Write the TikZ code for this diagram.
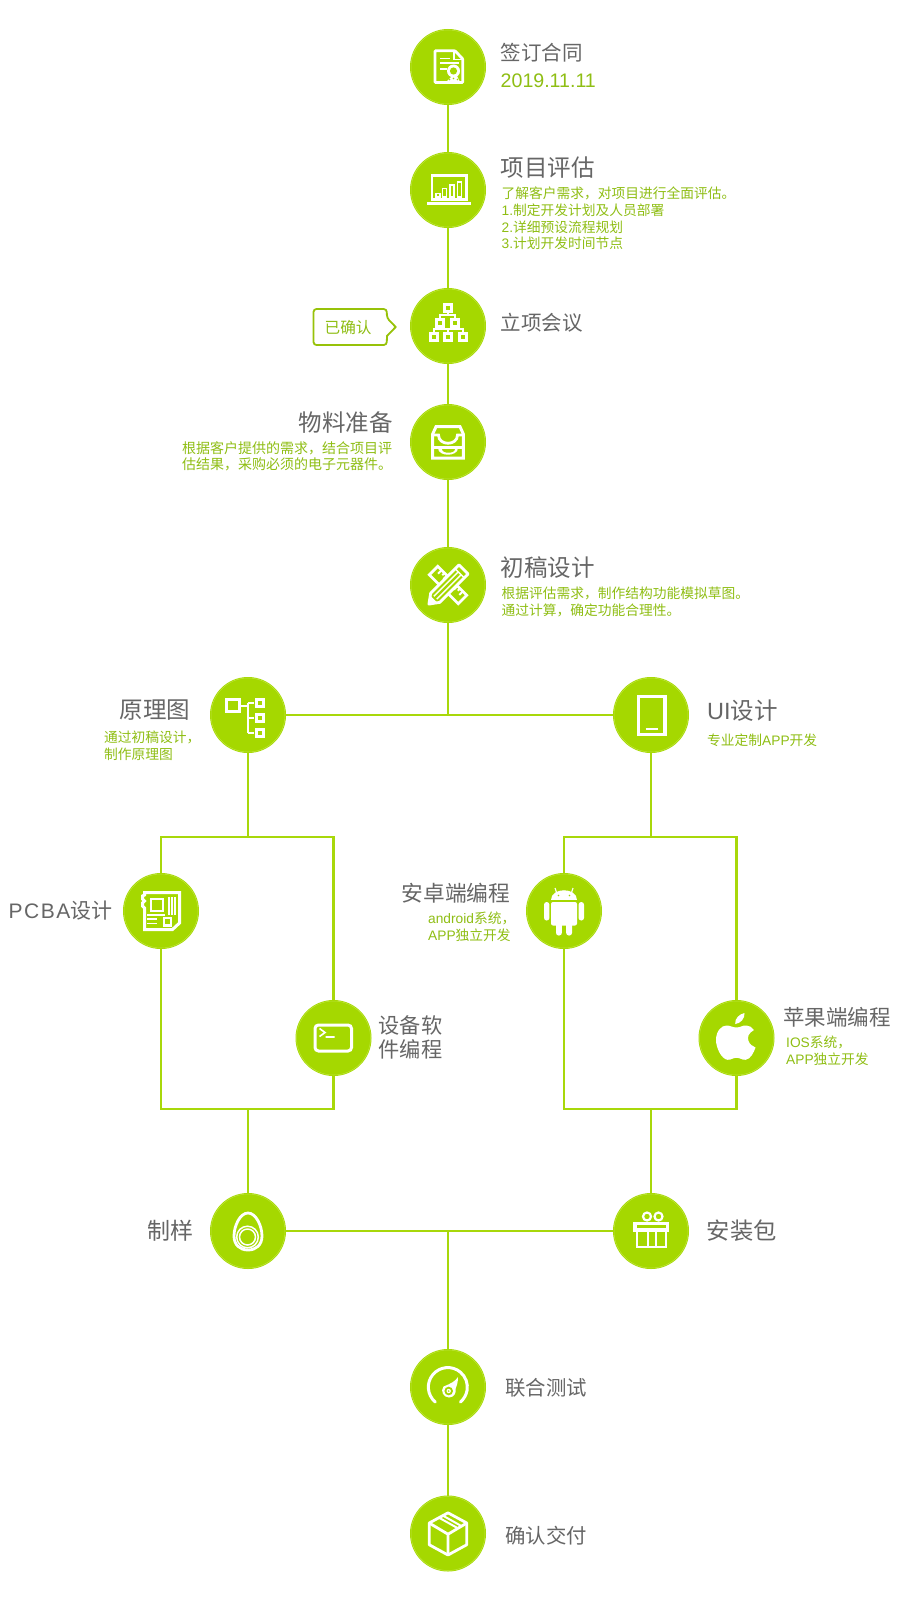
\documentclass[tikz,border=0pt]{standalone}
\usepackage{fontspec}
\setmainfont{Noto Sans CJK SC}
\newfontfamily\la{Liberation Sans}
\newfontfamily\lasp[LetterSpace=7]{Liberation Sans}
\definecolor{gcirc}{HTML}{A5D800}
\definecolor{gring}{HTML}{BEE63C}
\definecolor{gline}{HTML}{A8D80A}
\definecolor{gtext}{HTML}{8FBE14}
\definecolor{gtitle}{HTML}{666666}
\newcommand{\fz}[1]{\fontsize{#1}{#1}\selectfont}
\tikzset{
  stage/.style={circle,fill=gcirc,minimum size=76pt,inner sep=0,outer sep=0,
    path picture={\draw[gring,line width=.5] (path picture bounding box.center) circle (37pt);}},
  link/.style={gline,line width=2.3pt},
  ttl/.style={anchor=west,inner sep=0,text=gtitle,align=left},
  sub/.style={anchor=west,inner sep=0,text=gtext,align=left,font=\fz{13.75},execute at begin node={\baselineskip=16.8pt}},
  ic/.style={white,line width=2.8,line join=miter},
  thin/.style={white,line width=1.9},
}
\begin{document}
\begin{tikzpicture}[x=1pt,y=-1pt]
\useasboundingbox (0,0) rectangle (900,1600);
\fill[white] (0,0) rectangle (900,1600);
% stages
\node[stage] (sign) at (448,67) {};
\node[stage] (eval) at (448,190) {};
\node[stage] (meet) at (448,326) {};
\node[stage] (mat) at (448,442) {};
\node[stage] (draft) at (448,585) {};
\node[stage] (sch) at (248,715) {};
\node[stage] (ui) at (651,715) {};
\node[stage] (pcba) at (161,911) {};
\node[stage] (soft) at (333.5,1038) {};
\node[stage] (andr) at (564,911) {};
\node[stage] (appl) at (736.5,1038) {};
\node[stage] (samp) at (248,1231) {};
\node[stage] (pack) at (651,1231) {};
\node[stage] (test) at (448,1387) {};
\node[stage] (deliv) at (448,1533.5) {};
% junctions
\coordinate (jtop) at (448,715);
\coordinate (lt) at (161,837); \coordinate (rt) at (333.5,837);
\coordinate (lb) at (161,1108.7); \coordinate (rb) at (333.5,1108.7);
\coordinate (lst) at (248,837); \coordinate (lsb) at (248,1108.7);
\coordinate (lt2) at (564,837); \coordinate (rt2) at (736.5,837);
\coordinate (lb2) at (564,1108.7); \coordinate (rb2) at (736.5,1108.7);
\coordinate (rst) at (651,837); \coordinate (rsb) at (651,1108.7);
\coordinate (jbot) at (448,1231);
% connectors
\draw[link] (sign) -- (eval);
\draw[link] (eval) -- (meet);
\draw[link] (meet) -- (mat);
\draw[link] (mat) -- (draft);
\draw[link] (draft) -- (jtop);
\draw[link] (sch) -- (ui);
\draw[link] (sch) -- (lst);
\draw[link] (ui) -- (rst);
\draw[link,line join=miter] (pcba) -- (lt) -- (rt) -- (soft);
\draw[link,line join=miter] (pcba) -- (lb) -- (rb) -- (soft);
\draw[link,line join=miter] (andr) -- (lt2) -- (rt2) -- (appl);
\draw[link,line join=miter] (andr) -- (lb2) -- (rb2) -- (appl);
\draw[link] (lsb) -- (samp);
\draw[link] (rsb) -- (pack);
\draw[link] (samp) -- (pack);
\draw[link] (jbot) -- (test);
\draw[link] (test) -- (deliv);
% texts
\node[ttl,font=\fz{20.5}] (t1) at (500.5,53) {签订合同};
\node[anchor=west,inner sep=0,text=gtext,font=\la\fz{19.6}] (t1b) at (500.5,81) {2019.11.11};
\node[ttl,font=\fz{23.5}] (t2) at (500.5,167.5) {项目评估};
\node[sub,anchor=north west] (t2b) at (501.5,186.5) {了解客户需求，对项目进行全面评估。\\{\la 1.}制定开发计划及人员部署\\{\la 2.}详细预设流程规划\\{\la 3.}计划开发时间节点};
\node[ttl,font=\fz{20.5}] (t3) at (500.5,323) {立项会议};
\draw[gline!90!black,line width=1.8,fill=white,rounded corners=3pt] (313.5,309) -- (386.7,309) -- (387,318) [sharp corners] -- (395.7,327) -- (387,336) [rounded corners=3pt] -- (386.7,345) -- (313.5,345) -- cycle;
\node[anchor=west,inner sep=0,text=gtext,font=\fz{15.6}] (t3b) at (324.5,327.5) {已确认};
\node[ttl,font=\fz{23.5}] (t4) at (298.5,422.5) {物料准备};
\node[sub,anchor=north west,font=\fz{14}] (t4b) at (182,441) {根据客户提供的需求，结合项目评\\估结果，采购必须的电子元器件。};
\node[ttl,font=\fz{23.5}] (t5) at (500.5,567.5) {初稿设计};
\node[sub,anchor=north west] (t5b) at (501.5,586.5) {根据评估需求，制作结构功能模拟草图。\\通过计算，确定功能合理性。};
\node[ttl,font=\fz{23.5}] (t6) at (119.5,710) {原理图};
\node[sub,anchor=north west] (t6b) at (104,730.5) {通过初稿设计，\\制作原理图};
\node[ttl,font=\fz{23.5}] (t7) at (707,711) {{\la UI}设计};
\node[sub] (t7b) at (707,740) {专业定制{\la APP}开发};
\node[ttl,font=\fz{21}] (t8) at (8.5,911) {{\lasp PCBA}设计};
\node[ttl,font=\fz{21.2},execute at begin node={\baselineskip=24pt}] (t9) at (378.5,1037.5) {设备软\\件编程};
\node[ttl,font=\fz{21.7}] (t10) at (401.5,892.7) {安卓端编程};
\node[sub,anchor=north west] (t10b) at (428,912) {{\la android}系统，\\{\la APP}独立开发};
\node[ttl,font=\fz{21.5}] (t11) at (783,1017.7) {苹果端编程};
\node[sub,anchor=north west] (t11b) at (786,1035.5) {{\la IOS}系统，\\{\la APP}独立开发};
\node[ttl,font=\fz{23}] (t12) at (147,1231) {制样};
\node[ttl,font=\fz{23.3}] (t13) at (706.5,1231) {安装包};
\node[ttl,font=\fz{20.4}] (t14) at (505,1387.7) {联合测试};
\node[ttl,font=\fz{20.4}] (t15) at (505,1536) {确认交付};
% ---- icons
% contract
\begin{scope}[shift={(sign)}]
\draw[ic,rounded corners=.8pt] (-13,-16.2) -- (7,-16.2) -- (14.8,-8) -- (14.8,15.5) -- (-13,15.5) -- cycle;
\draw[thin,line width=1.5] (6,-16) -- (6,-7.5) -- (15,-7.5);
\draw[thin] (-8,-8.5) -- (2,-8.5) (-8,-4) -- (11,-4) (-8,2) -- (-1,2);
\fill[white] (4,9) -- (-2,15) -- (12,15) -- (9,9) -- cycle;
\fill[white] (5.5,4) circle (6.5);
\fill[gcirc] (5.5,4) circle (3.6);
\fill[gcirc] (1.5,12.5) circle (.8) (5.5,11.5) circle (.8) (9.5,12.5) circle (.8);
\end{scope}
% laptop
\begin{scope}[shift={(eval)}]
\draw[ic] (-16,-14.5) rectangle (18.5,9.5);
\fill[white] (-20.7,12) rectangle (23,15);
\draw[thin] (-12,3.5) rectangle (-8,7);
\draw[thin] (-5.5,-1.5) rectangle (-1.5,7);
\draw[thin] (2,-5) rectangle (6,7);
\draw[thin] (9.5,-8) rectangle (13.5,7);
\end{scope}
% org chart
\begin{scope}[shift={(meet)}]
\draw[white,line width=2] (-7.7,-3.3) -- (-7.7,-11) -- (7.3,-11) -- (7.3,-3.3);
\draw[white,line width=2] (0,-11) -- (0,-17);
\draw[white,line width=2] (-14.3,10.7) -- (-14.3,3) -- (15,3) -- (15,10.7) (0,3) -- (0,10.7);
\foreach \a/\b in {0/-17.7,-7.7/-3.3,7.3/-3.3,-14.3/10.7,0/10.7,15/10.7}{\fill[white] ({\a-5},{\b-5}) rectangle ({\a+5},{\b+5}); \fill[gcirc] ({\a-1.9},{\b-1.9}) rectangle ({\a+1.9},{\b+1.9});}
\end{scope}
% tray
\begin{scope}[shift={(mat)}]
\draw[ic,line width=3] (-15.3,16) -- (-15.3,-8) -- (-12,-15.3) -- (12,-15.3) -- (15.3,-8) -- (15.3,16) -- cycle;
\draw[ic,line width=2.8] (-15.8,-7) -- (-9.5,-7) .. controls (-9.5,4) and (9.5,4) .. (9.5,-7) -- (15.8,-7);
\draw[ic,line width=2.8] (-15.8,5.5) -- (15.8,5.5);
\fill[white] (-10,5.5) .. controls (-10,15) and (10,15) .. (10,5.5) -- cycle;
\fill[gcirc] (-6.5,7.3) .. controls (-6.5,11.5) and (6.5,11.5) .. (6.5,7.3) -- cycle;
\end{scope}
% ruler + pencil
\begin{scope}[shift={(draft)}]
\begin{scope}[rotate=-45]
\draw[ic,fill=gcirc] (-20.5,-6) rectangle (20.5,6);
\draw[thin] (-15,-6) -- (-15,-1) (-11,-6) -- (-11,-3) (-7.5,-6) -- (-7.5,-1) (7.5,-6) -- (7.5,-1) (11,-6) -- (11,-3) (15,-6) -- (15,-1);
\end{scope}
\begin{scope}[rotate=45]
\draw[ic,fill=gcirc,line join=round] (-27,0) -- (-18,-6.5) -- (22,-6.5) -- (22,6.5) -- (-18,6.5) -- cycle;
\draw[thin,line width=1.5] (-18,-2) -- (17,-2) (-18,2) -- (17,2) (16.5,-6.5) -- (16.5,6.5);
\fill[white] (-27,0) -- (-20,-5) -- (-20,5) -- cycle;
\end{scope}
\end{scope}
% hierarchy
\begin{scope}[shift={(sch)}]
\draw[white,line width=2] (-7,-9) -- (0,-9) (0,-11.7) -- (0,18.3) (0,-11.7) -- (6,-11.7) (0,3.3) -- (6,3.3) (0,18.3) -- (6,18.3);
\draw[ic,line width=3.2] (-21.7,-15.2) rectangle (-8.9,-3.2);
\foreach \b in {-11.7,3.3,18.3}{\fill[white] (6.5,{\b-5}) rectangle (16.5,{\b+5}); \fill[gcirc] (9.8,{\b-2}) rectangle (13.5,{\b+2});}
\end{scope}
% tablet
\begin{scope}[shift={(ui)}]
\draw[ic,line width=3.2] (-12.6,-18.4) rectangle (14,19.4);
\draw[ic,line width=2] (-5.5,14.3) -- (7,14.3);
\end{scope}
% chip
\begin{scope}[shift={(pcba)}]
\draw[ic,line width=3] (-16.5,-18.5) -- (18.5,-18.5) -- (18.5,12) -- (11.5,18.5) -- (-16.5,18.5) -- (-16.5,-3) -- (-18.5,-5) -- (-18.5,-8) -- (-16.5,-10) -- (-18.5,-12) -- (-18.5,-15) -- (-16.5,-16) -- cycle;
\draw[ic,line width=2.8] (-10,-12) rectangle (2,0);
\draw[white,line width=1.6] (8,-14) -- (8,4) (11,-14) -- (11,4) (14,-14) -- (14,4);
\draw[white,line width=1.6] (-14,8) -- (-4,8) (-14,12.5) -- (-4,12.5) (-14,4) -- (4,4);
\draw[ic,line width=2.4] (3,7) rectangle (10,14.5);
\end{scope}
% terminal
\begin{scope}[shift={(soft)}]
\draw[ic,line width=3,rounded corners=3.5pt] (-18.5,-13) rectangle (18,13);
\draw[white,line width=1.6] (-14,-9.5) -- (-8.5,-5.5) -- (-14,-1.5) (-8,-1) -- (1,-1);
\end{scope}
% android
\begin{scope}[shift={(andr)}]
\fill[white] (-13,-10.7) .. controls (-13,-24.5) and (13,-24.5) .. (13,-10.7) -- cycle;
\draw[white,line width=1.1] (-7,-17) -- (-9,-23) (7,-17) -- (9,-23);
\fill[gcirc] (-5.5,-15.5) circle (.9) (5.5,-15.5) circle (.9);
\fill[white,rounded corners=2pt] (-13,-9) rectangle (13,14.5);
\fill[white,rounded corners=2.6pt] (-20,-9) rectangle (-14.6,9.5);
\fill[white,rounded corners=2.6pt] (14.6,-9) rectangle (20,9.5);
\fill[white,rounded corners=2.6pt] (-8,8) rectangle (-2.2,24.5);
\fill[white,rounded corners=2.6pt] (2.2,8) rectangle (8,24.5);
\end{scope}
% apple
\begin{scope}[shift={(appl)}]
\fill[white] (0,-10.5) .. controls (4,-10.5) and (6,-13) .. (10,-12.5) .. controls (13,-12.5) and (16,-10.5) .. (17.5,-8) .. controls (12,-5) and (10.5,-1) .. (12,3) .. controls (13,6) and (16,8.5) .. (19,9.5) .. controls (17.5,14) and (14,21.5) .. (9,21.8) .. controls (5,22) and (4,19.8) .. (0,19.8) .. controls (-4,19.8) and (-5,22) .. (-9,21.8) .. controls (-15,21) and (-20.5,10) .. (-20.5,2) .. controls (-20.5,-7) and (-15,-12.5) .. (-10,-12.5) .. controls (-6,-12.5) and (-4,-10.5) .. (0,-10.5) -- cycle;
\fill[white] (-1.3,-14) .. controls (-2,-19.5) and (3,-24) .. (8,-25) .. controls (8.5,-19.5) and (4,-14.5) .. (-1.3,-14) -- cycle;
\end{scope}
% egg
\begin{scope}[shift={(samp)}]
\draw[ic,line width=2.8] (0,-18) .. controls (8,-18) and (14,-5) .. (14,5) .. controls (14,14) and (8,19) .. (0,19) .. controls (-8,19) and (-14,14) .. (-14,5) .. controls (-14,-5) and (-8,-18) .. (0,-18) -- cycle;
\draw[white,line width=1.5] (-.5,6) circle (10.8);
\draw[white,line width=1.5] (-.5,6) circle (8);
\end{scope}
% gift
\begin{scope}[shift={(pack)}]
\draw[white,line width=2.2] (-4,-14.5) circle (4) (7.5,-14.5) circle (4);
\fill[white] (-17.8,-9.5) rectangle (18,1);
\fill[gcirc] (-14.5,-5.8) rectangle (14.5,-3);
\draw[ic,line width=2.6] (-14,1) -- (-14,16) -- (15,16) -- (15,1);
\draw[ic,line width=2.6] (-3,1) -- (-3,16) (5,1) -- (5,16);
\end{scope}
% gauge
\begin{scope}[shift={(test)}]
\draw[ic,line width=3,line cap=round] (-12.7,15) arc (130:410:19.5);
\fill[white] (10,-10) .. controls (7,-5.5) and (3,-3.5) .. (-4.5,-.5) .. controls (-8,4) and (-4.5,10.5) .. (1,10.5) .. controls (6.5,10.5) and (8.5,5) .. (7.5,2) .. controls (9,-2) and (10,-5) .. (10,-10) -- cycle;
\fill[gcirc] (.7,4) circle (4.3);
\fill[white] (.7,4) circle (2.2);
\fill[gcirc] (.7,4) circle (.8);
\end{scope}
% box
\begin{scope}[shift={(deliv)}]
\draw[ic,line join=round] (0,-20.7) -- (18.8,-10.5) -- (18.8,11.2) -- (0,21.5) -- (-18.8,11.2) -- (-18.8,-10.5) -- cycle;
\draw[ic] (-18.8,-10.5) -- (0,.7) -- (18.8,-10.5) (0,.7) -- (0,21.5);
\draw[white,line width=2] (-9,-15.8) -- (10,-5.2) (-5.3,-18) -- (13.7,-7.3);
\end{scope}
\end{tikzpicture}
\end{document}
